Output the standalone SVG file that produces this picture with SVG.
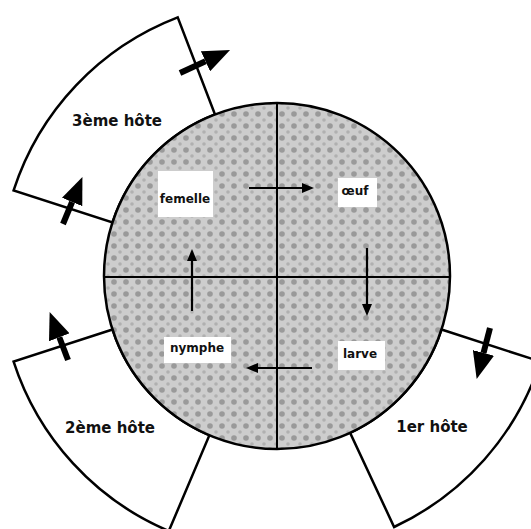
<svg xmlns="http://www.w3.org/2000/svg" width="531" height="529" viewBox="0 0 531 529">
<defs>
  <pattern id="tex" width="12" height="12" patternUnits="userSpaceOnUse">
    <rect width="12" height="12" fill="#cdcdcd"/>
    <circle cx="6" cy="6" r="2.8" fill="#9a9a9a"/>
    <circle cx="0" cy="0" r="1.8" fill="#b0b0b0"/>
    <circle cx="12" cy="0" r="1.8" fill="#b0b0b0"/>
    <circle cx="0" cy="12" r="1.8" fill="#b0b0b0"/>
    <circle cx="12" cy="12" r="1.8" fill="#b0b0b0"/>
  </pattern>
  <marker id="big" markerUnits="userSpaceOnUse" markerWidth="27" markerHeight="22" viewBox="0 0 27 22" refX="0" refY="11" orient="auto">
    <path d="M0,0 L27,11 L0,22 Z" fill="#000"/>
  </marker>
  <marker id="small" markerUnits="userSpaceOnUse" markerWidth="12" markerHeight="10" viewBox="0 0 12 10" refX="0" refY="5" orient="auto">
    <path d="M0,0 L12,5 L0,10 Z" fill="#000"/>
  </marker>
</defs>
<style>
  .sector { fill: #fff; stroke: #000; stroke-width: 2.5; stroke-linejoin: miter; }
  .host { font-family: "DejaVu Sans", sans-serif; font-weight: bold; font-size: 15px; fill: #111; text-anchor: middle; }
  .lbl { font-family: "DejaVu Sans", sans-serif; font-weight: bold; font-size: 12px; fill: #111; text-anchor: middle; }
  .box { fill: #fff; stroke: none; }
  .bigarrow { stroke: #000; stroke-width: 6; fill: none; marker-end: url(#big); }
  .smallarrow { stroke: #000; stroke-width: 2.2; fill: none; marker-end: url(#small); }
</style>

<g id="host3">
  <path class="sector" d="M215,114.5 L177.7,17.4 A277,277 0 0 0 13.6,190.4 L112.5,222.5 A173,173 0 0 1 215,114.5 Z"/>
  <text class="host" x="117" y="126">3ème hôte</text>
</g>
<g id="host2">
  <path class="sector" d="M112.5,329.5 L13.6,361.6 A277,277 0 0 0 168.8,531 L209.4,435.2 A173,173 0 0 1 112.5,329.5 Z"/>
  <text class="host" x="110" y="433">2ème hôte</text>
</g>
<g id="host1">
  <path class="sector" d="M441.5,329.5 L540.4,361.6 A277,277 0 0 1 394.1,527 L350.1,432.8 A173,173 0 0 0 441.5,329.5 Z"/>
  <text class="host" x="432" y="432">1er hôte</text>
</g>

<g id="cycle">
  <circle cx="277" cy="276" r="173" fill="url(#tex)" stroke="#000" stroke-width="2.5"/>
  <line x1="277" y1="103" x2="277" y2="449" stroke="#000" stroke-width="2"/>
  <line x1="104" y1="277" x2="450" y2="277" stroke="#000" stroke-width="2"/>
</g>

<g id="femelle">
  <rect class="box" x="158" y="171" width="55" height="46"/>
  <text class="lbl" x="185" y="203">femelle</text>
</g>
<g id="oeuf">
  <rect class="box" x="338" y="178" width="39" height="29"/>
  <text class="lbl" x="355" y="195">œuf</text>
</g>
<g id="larve">
  <rect class="box" x="338" y="341" width="47" height="29"/>
  <text class="lbl" x="360" y="358">larve</text>
</g>
<g id="nymphe">
  <rect class="box" x="164" y="337" width="67" height="26"/>
  <text class="lbl" x="197" y="352" font-size="13">nymphe</text>
</g>

<g id="connectors">
  <line class="smallarrow" x1="249" y1="188" x2="302" y2="188"/>
  <line class="smallarrow" x1="367" y1="248" x2="367" y2="304"/>
  <line class="smallarrow" x1="312" y1="368" x2="258" y2="368"/>
  <line class="smallarrow" x1="192" y1="311" x2="192" y2="261"/>
  <line class="bigarrow" x1="180" y1="73" x2="205.5" y2="61.3"/>
  <line class="bigarrow" x1="63" y1="224" x2="72.1" y2="202"/>
  <line class="bigarrow" x1="68" y1="360" x2="59.3" y2="337.3"/>
  <line class="bigarrow" x1="490" y1="328" x2="483.5" y2="352.9"/>
</g>
</svg>
